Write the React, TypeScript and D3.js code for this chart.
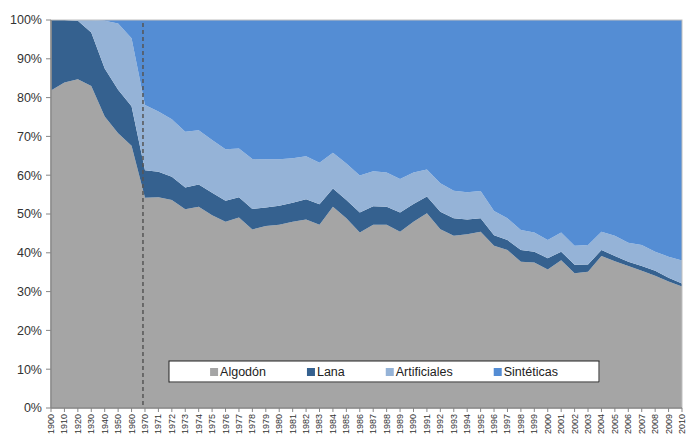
import React, { useMemo } from 'react';
import * as d3 from 'd3';

const years = ['1900','1910','1920','1930','1940','1950','1960','1970','1971','1972','1973','1974','1975','1976','1977','1978','1979','1980','1981','1982','1983','1984','1985','1986','1987','1988','1989','1990','1991','1992','1993','1994','1995','1996','1997','1998','1999','2000','2001','2002','2003','2004','2005','2006','2007','2008','2009','2010'];

const algodon = [81.8,83.9,84.7,83.0,75.1,70.8,67.6,54.2,54.3,53.6,51.2,51.9,49.7,48.0,49.1,46.0,46.9,47.2,48.0,48.6,47.2,51.9,48.9,45.2,47.2,47.2,45.4,48.0,50.2,46.1,44.4,44.8,45.4,41.8,40.7,37.7,37.5,35.7,38.1,34.7,35.1,39.2,37.8,36.6,35.4,34.1,32.6,31.3];
const lana = [18.2,16.1,15.1,13.8,12.4,11.2,10.2,7.1,6.6,6.0,5.6,5.7,5.8,5.4,5.2,5.3,4.8,4.9,4.9,5.2,5.3,4.7,4.7,5.2,4.8,4.7,5.0,4.6,4.3,4.5,4.5,3.8,3.5,2.7,2.6,3.0,2.8,2.9,2.2,2.2,1.9,1.5,1.4,1.1,1.2,1.3,1.0,0.8];
const artificiales = [0,0,0.2,3.2,12.3,17.1,17.5,16.8,15.5,14.8,14.4,14.0,13.6,13.3,12.6,12.9,12.4,12.0,11.5,11.1,10.7,9.2,9.4,9.5,9.0,8.8,8.6,8.1,7.0,7.3,7.1,7.0,7.0,6.3,5.6,5.2,4.9,4.7,4.9,4.9,5.0,4.7,5.2,4.9,5.4,4.9,5.4,5.9];
const sinteticas = [0,0,0,0,0.2,0.9,4.7,21.9,23.6,25.6,28.8,28.4,30.9,33.3,33.1,35.8,35.9,35.9,35.6,35.1,36.8,34.2,37.0,40.1,39.0,39.3,41.0,39.3,38.5,42.1,44.0,44.4,44.1,49.2,51.1,54.1,54.8,56.7,54.8,58.2,58.0,54.6,55.6,57.4,58.0,59.7,61.0,62.0];

const seriesNames = ['Algodón', 'Lana', 'Artificiales', 'Sintéticas'];
const seriesColors = ['#A5A5A5', '#35618F', '#95B3D7', '#548DD4'];
const yTicks = [0, 0.1, 0.2, 0.3, 0.4, 0.5, 0.6, 0.7, 0.8, 0.9, 1.0];
const markerYear = '1970';

const FONT = "'Liberation Sans', Arial, sans-serif";

export default function App() {
  const W = 686, H = 435;
  const left = 51, right = 682, top = 20, bottom = 408;

  const x = d3.scalePoint<string>().domain(years).range([left, right]).padding(0);
  const y = d3.scaleLinear().domain([0, 1]).range([bottom, top]);

  const rows = years.map((yr, i) => ({
    year: yr,
    'Algodón': algodon[i],
    'Lana': lana[i],
    'Artificiales': artificiales[i],
    'Sintéticas': sinteticas[i],
  }));

  const stacked = d3.stack<any>().keys(seriesNames).offset(d3.stackOffsetExpand)(rows);
  const area = d3.area<any>()
    .x((d) => x(d.data.year) as number)
    .y0((d) => y(d[0]))
    .y1((d) => y(d[1]));

  const legendFont = 12.5;
  const legend = useMemo(() => {
    const c = document.createElement('canvas').getContext('2d');
    let widths = seriesNames.map((n) => n.length * 7);
    if (c) {
      c.font = `${legendFont}px 'Liberation Sans'`;
      widths = seriesNames.map((n) => c.measureText(n).width);
    }
    const sq = 8, gapSq = 2, gapItem = 41;
    const total = widths.reduce((a, b) => a + b, 0) + seriesNames.length * (sq + gapSq) + gapItem * (seriesNames.length - 1);
    const boxL = 169, boxR = 599;
    let cx = (boxL + boxR) / 2 - total / 2;
    return seriesNames.map((n, i) => {
      const item = { name: n, x: cx, color: seriesColors[i] };
      cx += sq + gapSq + widths[i] + gapItem;
      return item;
    });
  }, []);

  const fmt = d3.format('.0%');
  const mx = (x(markerYear) as number) - 2;

  return (
    <svg width={W} height={H} style={{ position: 'absolute', left: 0, top: 0, background: '#fff' }} fontFamily={FONT}>
      {stacked.map((s, i) => (
        <path key={s.key} d={area(s) || ''} fill={seriesColors[i]} />
      ))}
      <rect x={left} y={top} width={right - left} height={bottom - top} fill="none" stroke="#BFBFBF" strokeWidth={1} />
      <line x1={mx} x2={mx} y1={top + 3} y2={bottom} stroke="#555" strokeWidth={1.5} strokeDasharray="4,3" />
      <line x1={left} x2={left} y1={top} y2={bottom} stroke="#868686" strokeWidth={1.5} />
      {yTicks.map((t) => (
        <g key={t}>
          <line x1={left - 5} x2={left} y1={y(t)} y2={y(t)} stroke="#868686" />
          <text x={42} y={y(t)} dy="0.35em" textAnchor="end" fontSize={12.5} fill="#333">{fmt(t)}</text>
        </g>
      ))}
      <line x1={left} x2={right} y1={bottom} y2={bottom} stroke="#868686" strokeWidth={1.5} />
      {years.map((yr) => (
        <g key={yr}>
          <line x1={x(yr)} x2={x(yr)} y1={bottom} y2={bottom + 4} stroke="#868686" />
          <text transform={`translate(${x(yr)},${bottom + 6}) rotate(-90)`} textAnchor="end" dy="0.33em" fontSize={9} fill="#333">{yr}</text>
        </g>
      ))}
      <rect x={170} y={362} width={430} height={21} fill="#C8C8C8" />
      <rect x={169} y={361} width={430} height={21} fill="#fff" stroke="#222" strokeWidth={1} />
      {legend.map((l) => (
        <g key={l.name}>
          <rect x={l.x} y={368} width={8} height={8} fill={l.color} />
          <text x={l.x + 10} y={372} dy="0.35em" fontSize={legendFont} fill="#222">{l.name}</text>
        </g>
      ))}
    </svg>
  );
}
